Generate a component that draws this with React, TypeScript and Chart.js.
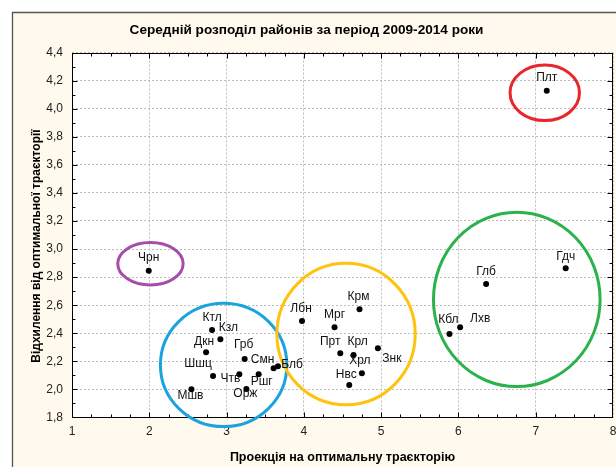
import React, { useEffect, useRef } from 'react';
import { Chart, registerables } from 'chart.js';

Chart.register(...registerables);

// ---- data ----
const titleText = 'Середній розподіл районів за період 2009-2014 роки';
const xTitle = 'Проекція на оптимальну траєкторію';
const yTitle = 'Відхилення від оптимальної траєкторії';

const pointLabels = ['Плт', 'Чрн', 'Ктл', 'Кзл', 'Дкн', 'Грб', 'Смн', 'Блб', 'Шшц', 'Чтв', 'Ршг', 'Орж', 'Мшв',
  'Лбн', 'Мрг', 'Крм', 'Прт', 'Крл', 'Знк', 'Хрл', 'Нвс', 'Глб', 'Гдч', 'Кбл', 'Лхв'];
const xValues = [7.143, 1.993, 2.812, 2.920, 2.735, 3.234, 3.609, 3.665, 2.825, 3.165, 3.415, 3.256, 2.545,
  3.976, 4.397, 4.720, 4.471, 4.643, 4.958, 4.751, 4.587, 6.358, 7.388, 5.884, 6.022];
const yValues = [4.128, 2.846, 2.424, 2.357, 2.265, 2.217, 2.151, 2.165, 2.096, 2.108, 2.108, 2.003, 2.001,
  2.488, 2.443, 2.571, 2.258, 2.245, 2.293, 2.115, 2.032, 2.751, 2.863, 2.395, 2.443];

// cluster ellipses (data units)
const clusterCx = [7.117, 2.015, 2.962, 4.546, 6.755];
const clusterCy = [4.113, 2.895, 2.174, 2.394, 2.641];
const clusterRx = [0.449, 0.423, 0.818, 0.895, 1.078];
const clusterRy = [0.198, 0.151, 0.439, 0.504, 0.621];
const clusterColors = ['#E8262C', '#A54DA8', '#1BA3E0', '#FFC20E', '#2BB24C'];

const xMin = 1, xMax = 8, xStep = 1, xMinorStep = 0.25;
const yMin = 1.8, yMax = 4.4, yStep = 0.2, yMinorStep = 0.1;

// label placement offsets (px, label centre relative to point)
const labelOffsets: [number, number][] = [
  [0, -13], [0, -13], [0, -12], [8, -12], [-2, -11], [-1, -14], [-11, -9], [14, -2], [-15, -12], [-9, 4], [3, 7], [-1, 5], [-1, 6],
  [-1, -12], [0, -13], [-1, -13], [-10, -12], [4, -13], [14, 10], [-2, -13], [-3, -10], [0, -12], [0, -12], [-1, -14], [20, -9],
];

const FONT = 'Arial, "Liberation Sans", sans-serif';

const decorPlugin = {
  id: 'decor',
  beforeDraw(chart: any) {
    const { ctx, width, height, chartArea } = chart;
    ctx.save();
    ctx.fillStyle = '#ffffff';
    ctx.fillRect(0, 0, width, height);
    ctx.fillStyle = '#FFF9EE';
    ctx.fillRect(12.5, 12.5, width, height);
    ctx.strokeStyle = '#555555';
    ctx.lineWidth = 1.3;
    ctx.beginPath();
    ctx.moveTo(12.5, height + 5);
    ctx.lineTo(12.5, 12.5);
    ctx.lineTo(width + 5, 12.5);
    ctx.stroke();
    ctx.fillStyle = '#ffffff';
    ctx.fillRect(chartArea.left, chartArea.top, chartArea.right - chartArea.left, chartArea.bottom - chartArea.top);
    ctx.restore();
  },
  afterDatasetsDraw(chart: any) {
    const { ctx, chartArea, scales } = chart;
    const xs = scales.x, ys = scales.y;
    const L = Math.round(chartArea.left) + 0.5;
    const R = Math.round(chartArea.right) - 0.5;
    const T = Math.round(chartArea.top) + 0.5;
    const B = Math.round(chartArea.bottom) - 0.5;
    ctx.save();
    // frame
    ctx.strokeStyle = '#000';
    ctx.lineWidth = 1;
    ctx.strokeRect(L, T, R - L, B - T);
    // ticks inward
    ctx.beginPath();
    const nx = Math.round((xMax - xMin) / xMinorStep);
    for (let i = 1; i < nx; i++) {
      const v = xMin + i * xMinorStep;
      const px = Math.round(xs.getPixelForValue(v)) + 0.5;
      const len = Math.abs(v - Math.round(v)) < 1e-6 ? 5 : 3;
      ctx.moveTo(px, B); ctx.lineTo(px, B - len);
      ctx.moveTo(px, T); ctx.lineTo(px, T + len);
    }
    const ny = Math.round((yMax - yMin) / yMinorStep);
    for (let i = 1; i < ny; i++) {
      const v = yMin + i * yMinorStep;
      const py = Math.round(ys.getPixelForValue(v)) + 0.5;
      const len = i % 2 === 0 ? 5 : 3;
      ctx.moveTo(L, py); ctx.lineTo(L + len, py);
      ctx.moveTo(R, py); ctx.lineTo(R - len, py);
    }
    ctx.stroke();
    // cluster ellipses
    ctx.lineWidth = 3;
    for (let i = 0; i < clusterCx.length; i++) {
      const cx = xs.getPixelForValue(clusterCx[i]);
      const cy = ys.getPixelForValue(clusterCy[i]);
      const rx = Math.abs(xs.getPixelForValue(clusterCx[i] + clusterRx[i]) - cx);
      const ry = Math.abs(ys.getPixelForValue(clusterCy[i] + clusterRy[i]) - cy);
      ctx.strokeStyle = clusterColors[i];
      ctx.beginPath();
      ctx.ellipse(cx, cy, rx, ry, 0, 0, Math.PI * 2);
      ctx.stroke();
    }
    // point labels
    ctx.fillStyle = '#111';
    ctx.font = `12px ${FONT}`;
    ctx.textAlign = 'center';
    ctx.textBaseline = 'middle';
    const meta = chart.getDatasetMeta(0);
    meta.data.forEach((el: any, i: number) => {
      const [dx, dy] = labelOffsets[i] || [0, -13];
      ctx.fillText(pointLabels[i], el.x + dx, el.y + dy);
    });
    // y axis title
    ctx.fillStyle = '#000';
    ctx.font = `bold 12px ${FONT}`;
    ctx.translate(37, 246);
    ctx.rotate(-Math.PI / 2);
    ctx.fillText(yTitle, 0, 0);
    ctx.restore();
  },
};

export default function App() {
  const ref = useRef<HTMLCanvasElement>(null);
  useEffect(() => {
    document.body.style.margin = '0';
    const canvas = ref.current!;
    const chart = new Chart(canvas, {
      type: 'scatter',
      data: {
        datasets: [{
          data: xValues.map((x, i) => ({ x, y: yValues[i] })),
          backgroundColor: '#000',
          borderColor: '#000',
          pointRadius: 3,
          pointHoverRadius: 3,
          borderWidth: 0,
        }],
      },
      options: {
        responsive: false,
        animation: false,
        devicePixelRatio: 1,
        layout: { padding: { left: 0, right: 3, top: 0, bottom: 0 } },
        plugins: {
          legend: { display: false },
          tooltip: { enabled: false },
          title: {
            display: true,
            text: titleText,
            color: '#000',
            font: { family: FONT, size: 13.6, weight: 'bold' },
            padding: { top: 21.8, bottom: 14.4 },
          },
        },
        scales: {
          x: {
            type: 'linear',
            position: 'bottom',
            min: xMin,
            max: xMax,
            ticks: {
              stepSize: xStep,
              color: '#222',
              font: { family: FONT, size: 12 },
              padding: 7,
              callback: (v: any) => String(v),
            },
            grid: { color: '#bdbdbd', lineWidth: 1, drawTicks: false },
            border: { display: false, dash: [2, 2] },
            title: {
              display: true,
              text: xTitle,
              color: '#000',
              font: { family: FONT, size: 12.5, weight: 'bold' },
              padding: { top: 0, bottom: 2 },
            },
            afterFit: (s: any) => { s.height = 49.5; s.paddingLeft = 0; s.paddingRight = 0; },
          },
          y: {
            type: 'linear',
            min: yMin,
            max: yMax,
            ticks: {
              stepSize: yStep,
              color: '#222',
              font: { family: FONT, size: 12 },
              padding: 9,
              callback: (v: any) => Number(v).toFixed(1).replace('.', ','),
            },
            grid: { color: '#bdbdbd', lineWidth: 1, drawTicks: false },
            border: { display: false, dash: [2, 2] },
            afterFit: (s: any) => { s.width = 72; s.paddingTop = 0; s.paddingBottom = 0; },
          },
        },
      } as any,
      plugins: [decorPlugin],
    });
    return () => chart.destroy();
  }, []);
  return <canvas ref={ref} width={616} height={467} style={{ display: 'block' }} />;
}
